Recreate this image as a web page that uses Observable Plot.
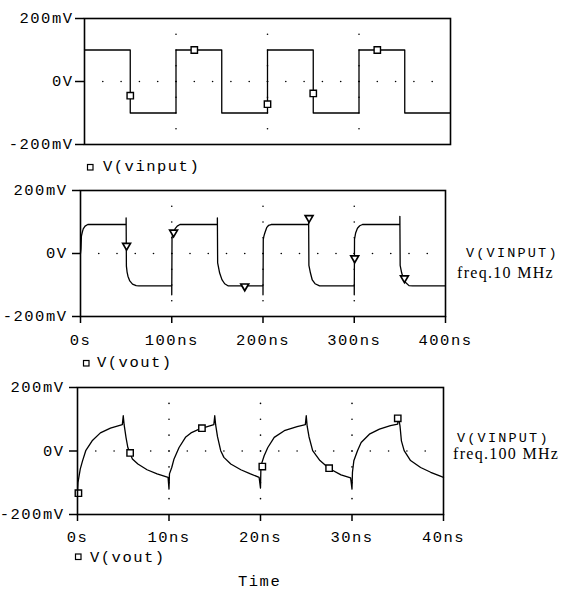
<!DOCTYPE html>
<html><head><meta charset="utf-8">
<script src="https://cdn.jsdelivr.net/npm/d3@7"></script>
<script src="https://cdn.jsdelivr.net/npm/@observablehq/plot@0.6"></script>
<style>
html,body{margin:0;padding:0;background:#fff;}
#root{position:relative;width:566px;height:590px;overflow:hidden;background:#fff;}
#root svg{position:absolute;left:0;}
</style></head><body><div id="root"></div>
<script>
// ---------- data ----------
const yTicks = [-200, 0, 200];
const yLabels = ["-200mV", "0V", "200mV"];
const gridLevels = [-150, -100, -50, 0, 50, 100, 150];
const xTicks10 = [0, 100, 200, 300, 400];
const xLabels10 = ["0s", "100ns", "200ns", "300ns", "400ns"];
const xTicks100 = [0, 10, 20, 30, 40];
const xLabels100 = ["0s", "10ns", "20ns", "30ns", "40ns"];

// V(vinput), 10 MHz, [ns, mV]
const vinput = [[0,100],[50,100],[50,-100],[100,-100],[100,100],[150,100],[150,-100],[200,-100],
  [200,100],[250,100],[250,-100],[300,-100],[300,100],[350,100],[350,-100],[400,-100]];
const vinputMarkers = [[50,-45],[120,100],[200,-72],[250,-38],[320,100]];

// V(vout), 10 MHz input, [ns, mV]
const vout10 = [[0,0],[0.5,15],[1,55],[2,68],[3,78],[5,87],[8,92],[50,92],[50,113],[50.3,-40],[51,-58],
  [52,-72],[54,-87],[57,-97],[61,-102],[64,-103],[100,-103],[100,-131],[100.3,50],[101,60],[102,68],
  [104,80],[106,87],[109,92],[150,92],[150,113],[150.3,-30],[151,-40],[152.5,-62],[155,-83],[158,-96],
  [162,-103],[200,-103],[200,-131],[200.3,45],[201,55],[202,65],[204,82],[206,89],[209,92],[250,92],
  [250,115],[250.3,-38],[252,-62],[254,-84],[257,-96],[262,-103],[300,-103],[300,-131],[300.3,46],
  [301.5,65],[303.5,80],[306,88],[309,92],[350,92],[350,118],[350.3,-38],[352,-62],[354,-80],[356,-91],
  [360,-102],[364,-103],[400,-103]];
const vout10Markers = [[50.5,25],[102,67],[180,-104],[250.5,113],[300.5,-15],[355,-78]];

// V(vout), 100 MHz input, [ns, mV]
const vout100 = [[0,-130],[0.05,-100],[0.3,-57],[0.55,-31],[0.9,1],[1.6,32],[2.5,57],[3.6,72],[4.9,83],
  [5,111],[5.1,82],[5.3,43],[5.5,11],[6,-25],[6.6,-41],[7.6,-59],[8.7,-72],[9.9,-83],[10,-120],
  [10.05,-72],[10.3,-52],[10.55,-25],[11.1,11],[11.8,43],[12.4,57],[13.3,69],[14.9,83],[15,111],
  [15.1,82],[15.3,45],[15.65,1],[16,-20],[16.75,-41],[17.85,-59],[18.9,-72],[19.85,-83],[20,-117],
  [20.05,-46],[20.4,-15],[20.8,11],[21.5,43],[22.6,64],[24,77],[24.9,83],[25,111],[25.1,78],[25.3,45],
  [25.7,1],[26.5,-30],[27.5,-55],[28.8,-75],[29.85,-85],[30,-120],[30.05,-67],[30.2,-31],[30.6,1],
  [31,27],[31.9,53],[33,69],[34.2,80],[35,85],[35.05,111],[35.25,78],[35.4,32],[35.7,1],[36.4,-30],
  [37.5,-52],[38.6,-67],[39.8,-81],[40,-83]];
const vout100Markers = [[0.1,-133],[5.75,-6],[13.6,72],[20.2,-49],[27.5,-54],[35,103]];

const legendNames = ["V(vinput)", "V(vout)", "V(vout)"];
const sideLabel = "V(VINPUT)";
const sideFreqs = ["freq.10 MHz", "freq.100 MHz"];
const xTitle = "Time";

// ---------- drawing ----------
const mono = "'Liberation Mono','DejaVu Sans Mono',monospace";
const serif = "'Liberation Serif','DejaVu Serif',serif";
const root = document.getElementById("root");

function panel(cfg) {
  const xMax = cfg.xTicks[cfg.xTicks.length - 1];
  const grid = [];
  for (const x of cfg.xTicks.slice(1, -1)) for (const y of gridLevels) grid.push({x, y});
  for (const x of d3.range(1, 20)) grid.push({x: x * xMax / 20, y: 0});
  const trace = cfg.trace.map(([t, v]) => ({t, v}));
  const mk = cfg.markers.map(([t, v]) => ({t, v}));
  const marks = [
    Plot.dot(grid, {x: "x", y: "y", r: 0.8, fill: "#000", stroke: null}),
    Plot.line(trace, {x: "t", y: "v", stroke: "#000", strokeWidth: 1.3}),
    Plot.dot(mk, {x: "t", y: "v", symbol: cfg.symbol, r: cfg.r, stroke: "#000", strokeWidth: cfg.sw, fill: "#fff", rotate: cfg.rotate}),
    Plot.axisY({ticks: yTicks, tickFormat: d => yLabels[yTicks.indexOf(d)], tickSize: cfg.yTick, tickPadding: cfg.yPad, strokeWidth: 1.5, label: null}),
    Plot.frame({stroke: "#000", strokeWidth: 1.6})
  ];
  if (cfg.xLabels) {
    marks.push(Plot.axisX({ticks: cfg.xTicks, tickFormat: d => cfg.xLabels[cfg.xTicks.indexOf(d)], tickSize: 7, tickPadding: cfg.xPad, strokeWidth: 1.5, label: null}));
  }
  const svg = Plot.plot({
    width: cfg.width, height: cfg.height,
    marginLeft: cfg.ml, marginRight: cfg.width - cfg.xr, marginTop: cfg.mt, marginBottom: cfg.mb,
    x: {domain: [0, xMax], axis: cfg.xLabels ? undefined : null},
    y: {domain: [-200, 200]},
    style: {fontFamily: mono, fontSize: "15.5px", letterSpacing: "1.5px", color: "#000", background: "transparent", overflow: "visible"},
    marks
  });
  svg.style.top = cfg.top + "px";
  root.appendChild(svg);
}

panel({top: 0, width: 460, height: 150, ml: 84, xr: 450, mt: 18, mb: 6, yTick: 9, yPad: 2,
  xTicks: xTicks10, xLabels: null, trace: vinput, markers: vinputMarkers, symbol: "square", rotate: 0, r: 3.6, sw: 1.4});
panel({top: 172, width: 460, height: 178, ml: 80, xr: 445, mt: 18, mb: 34, yTick: 8, yPad: 5,
  xTicks: xTicks10, xLabels: xLabels10, xPad: 10.5, trace: vout10, markers: vout10Markers, symbol: "triangle", rotate: 180, r: 2.9, sw: 1.7});
panel({top: 369, width: 460, height: 178, ml: 77, xr: 443, mt: 18, mb: 33, yTick: 8, yPad: 5,
  xTicks: xTicks100, xLabels: xLabels100, xPad: 9.7, trace: vout100, markers: vout100Markers, symbol: "square", rotate: 0, r: 3.6, sw: 1.4});

// overlay texts
const ov = d3.select(root).append("svg").attr("width", 566).attr("height", 590).style("top", "0px");
const legends = [{sx: 87.5, sy: 164.5, tx: 103, by: 171}, {sx: 83.5, sy: 360.5, tx: 97, by: 367}, {sx: 75.5, sy: 554, tx: 90, by: 562}];
legends.forEach((l, i) => {
  ov.append("rect").attr("x", l.sx).attr("y", l.sy).attr("width", 5.5).attr("height", 5.5).attr("fill", "none").attr("stroke", "#000").attr("stroke-width", 1.2);
  ov.append("text").attr("x", l.tx).attr("y", l.by).attr("font-family", mono).attr("font-size", 15.5).attr("letter-spacing", "1.5px").text(legendNames[i]);
});
ov.append("text").attr("x", 238).attr("y", 586).attr("font-family", mono).attr("font-size", 15.5).attr("letter-spacing", "1.5px").text(xTitle);
const sides = [{x1: 466, b1: 257, x2: 457, b2: 277.5}, {x1: 457, b1: 441.5, x2: 453, b2: 459}];
sides.forEach((s, i) => {
  ov.append("text").attr("x", s.x1).attr("y", s.b1).attr("font-family", mono).attr("font-size", 13.5).attr("letter-spacing", "2.2px").text(sideLabel);
  ov.append("text").attr("x", s.x2).attr("y", s.b2).attr("font-family", serif).attr("font-size", 16).attr("letter-spacing", "1.3px").text(sideFreqs[i]);
});
</script></body></html>
